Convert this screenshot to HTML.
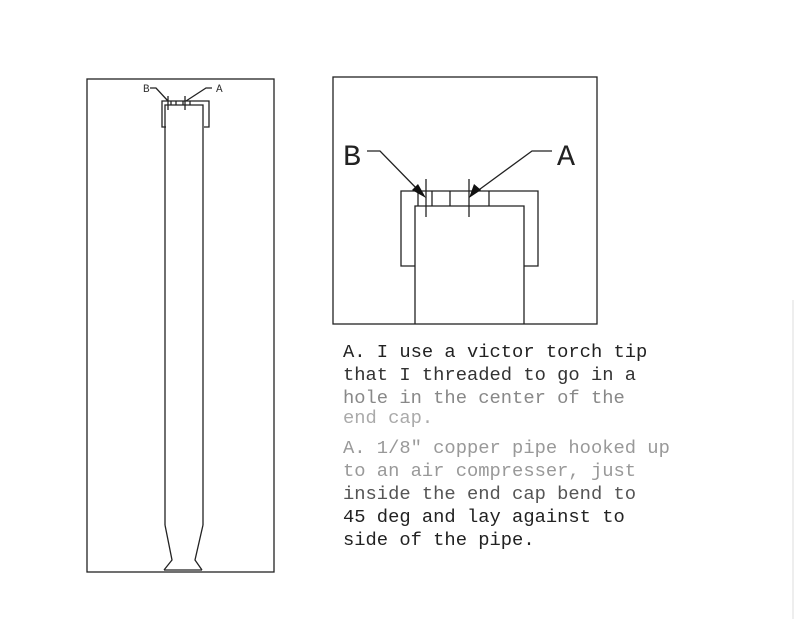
<!DOCTYPE html>
<html><head><meta charset="utf-8"><style>html,body{margin:0;padding:0;background:#fff;width:800px;height:619px;overflow:hidden}svg{display:block}</style></head>
<body>
<svg width="800" height="619" viewBox="0 0 800 619" xmlns="http://www.w3.org/2000/svg">
<rect width="800" height="619" fill="#fff"/>
<line x1="793" y1="300" x2="793" y2="619" stroke="#ddd" stroke-width="1"/>
<g fill="none" stroke="#222" stroke-width="1.3">
<!-- left panel -->
<rect x="87" y="79" width="187" height="493"/>
<polyline points="166,127 162,127 162,101 209,101 209,127 204,127"/>
<polyline points="165,525 165,105 203,105 203,525"/>
<line x1="171" y1="101" x2="171" y2="105"/><line x1="176" y1="101" x2="176" y2="105"/>
<line x1="183" y1="101" x2="183" y2="105"/><line x1="190" y1="101" x2="190" y2="105"/>
<line x1="168" y1="96" x2="168" y2="110"/><line x1="185" y1="96" x2="185" y2="110"/>
<polyline points="150,88 156,88 168,101"/>
<polyline points="212,88 206,88 186,101"/>
<polyline points="165,525 172,560 164,570"/>
<polyline points="203,525 195,560 202,570"/>
<line x1="164" y1="570" x2="202" y2="570"/>
<!-- inset -->
<rect x="333" y="77" width="264" height="247"/>
<polyline points="415,266 401,266 401,191 538,191 538,266 524,266"/>
<polyline points="415,324 415,206 524,206 524,324"/>
<line x1="418" y1="191" x2="418" y2="206"/><line x1="432" y1="191" x2="432" y2="206"/>
<line x1="450" y1="191" x2="450" y2="206"/><line x1="489" y1="191" x2="489" y2="206"/>
<line x1="426" y1="179" x2="426" y2="217"/><line x1="469" y1="179" x2="469" y2="217"/>
<polyline points="367,151 380,151 420,192"/>
<polyline points="552,151 532,151 476,192"/>
</g>
<polygon points="426,198 412,190 418,184" fill="#111"/>
<polygon points="469,198 474,184 481,190" fill="#111"/>
<g font-family="Liberation Mono, monospace" fill="#333">
<text x="143" y="92" font-size="11">B</text>
<text x="216" y="92" font-size="11">A</text>
<text x="343" y="165" font-size="30" fill="#222">B</text>
<text x="557" y="165" font-size="30" fill="#222">A</text>
</g>
<g font-family="Liberation Mono, monospace" font-size="18.8">
<text x="343" y="357" fill="#222">A. I use a victor torch tip</text>
<text x="343" y="380" fill="#333">that I threaded to go in a</text>
<text x="343" y="403" fill="#888">hole in the center of the</text>
<text x="343" y="423" fill="#aaa">end cap.</text>
<text x="343" y="453" fill="#999">A. 1/8" copper pipe hooked up</text>
<text x="343" y="476" fill="#999">to an air compresser, just</text>
<text x="343" y="499" fill="#555">inside the end cap bend to</text>
<text x="343" y="522" fill="#222">45 deg and lay against to</text>
<text x="343" y="545" fill="#222">side of the pipe.</text>
</g>
</svg>
</body></html>
